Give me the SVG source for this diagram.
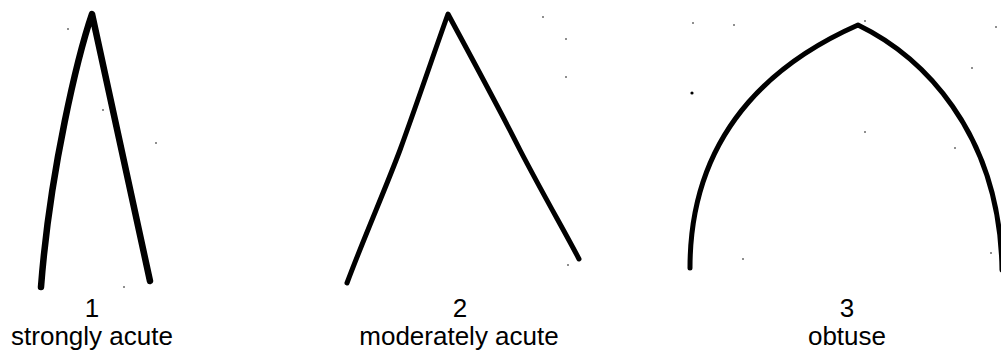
<svg xmlns="http://www.w3.org/2000/svg" width="1001" height="354" viewBox="0 0 1001 354">
<style>
.arch{fill:none;stroke:#000;stroke-linecap:round;stroke-linejoin:round}
.lbl{font-family:"Liberation Sans",Arial,sans-serif;font-size:26px;fill:#000;text-anchor:middle}
.dot{fill:#000}
</style>
<rect width="1001" height="354" fill="#fff"/>
<g id="arch1">
<path class="arch" stroke-width="6.5" d="M41,287 C50,170 78,55 92,14 L150,281"/>
<text class="lbl" x="92" y="317">1</text>
<text class="lbl" x="92" y="345">strongly acute</text>
</g>
<g id="arch2">
<path class="arch" stroke-width="5" d="M347,283 C365,235 385,190 400,150 C420,95 435,50 448,14 C470,55 500,110 520,150 C545,198 565,232 579,259"/>
<text class="lbl" x="460" y="317">2</text>
<text class="lbl" x="459" y="345">moderately acute</text>
</g>
<g id="arch3">
<path class="arch" stroke-width="5" d="M690,268 C690,120 790,55 858,25 C920,55 1000,130 1002,270"/>
<text class="lbl" x="847" y="317">3</text>
<text class="lbl" x="847" y="345">obtuse</text>
</g>
<g id="specks">
<circle class="dot" cx="68" cy="29" r="0.8"/>
<circle class="dot" cx="103" cy="110" r="0.8"/>
<circle class="dot" cx="156" cy="143" r="0.8"/>
<circle class="dot" cx="124" cy="287" r="0.8"/>
<circle class="dot" cx="543" cy="17" r="0.8"/>
<circle class="dot" cx="566" cy="39" r="0.8"/>
<circle class="dot" cx="566" cy="77" r="0.8"/>
<circle class="dot" cx="568" cy="265" r="0.8"/>
<circle class="dot" cx="693" cy="23" r="0.8"/>
<circle class="dot" cx="734" cy="25" r="0.8"/>
<circle class="dot" cx="692" cy="93" r="1.6"/>
<circle class="dot" cx="865" cy="21" r="0.8"/>
<circle class="dot" cx="996" cy="27" r="0.8"/>
<circle class="dot" cx="972" cy="68" r="0.8"/>
<circle class="dot" cx="865" cy="132" r="0.8"/>
<circle class="dot" cx="955" cy="148" r="0.8"/>
<circle class="dot" cx="743" cy="259" r="0.8"/>
<circle class="dot" cx="991" cy="253" r="0.8"/>
</g>
</svg>
